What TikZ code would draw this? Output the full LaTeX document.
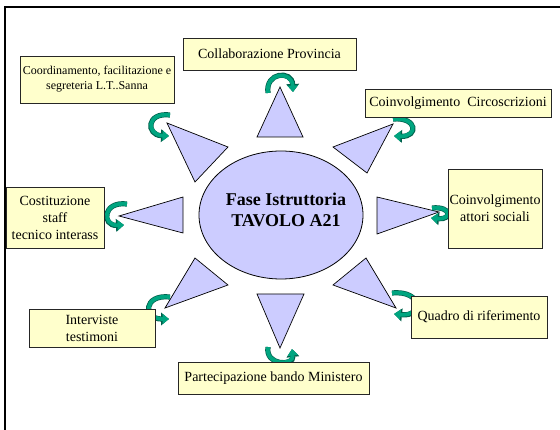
\documentclass[tikz,border=0pt]{standalone}
\usepackage{fontspec}
\setmainfont{Liberation Serif}
\usetikzlibrary{shapes.geometric,arrows.meta}
\definecolor{boxfill}{RGB}{255,255,204}
\definecolor{trifill}{RGB}{204,204,255}
\definecolor{cyccol}{RGB}{0,165,128}
\definecolor{cycedge}{RGB}{0,95,75}
\tikzset{
  box/.style={draw=black!85, fill=boxfill, line width=0.7pt, inner sep=0pt, align=center,
    font=\fontsize{14}{17}\selectfont},
  tri/.style={draw=black, fill=trifill, line width=0.7pt, line join=miter},
  cycedge/.style={draw=cycedge, line width=5.2pt, -{Triangle[width=12.5pt,length=8pt]}},
  cyc/.style={draw=cyccol, line width=3.8pt, -{Triangle[width=10pt,length=6.5pt]}},
  frame/.style={draw=black, line width=2.4pt}
}
\newcommand{\curlarrow}[3]{%
  \draw[cycedge] (#1) .. controls #3 .. (#2);
  \draw[cyc] (#1) .. controls #3 .. (#2);}
\begin{document}
\begin{tikzpicture}[x=1pt,y=1pt]
\useasboundingbox (0,0) rectangle (560,429);
% frame
\draw[frame] (5,-5) -- (5,422) -- (570,422);
% triangles
\draw[tri] (280,342) -- (257,292) -- (303,292) -- cycle;
\draw[tri] (167,306) -- (228,282) -- (195,247) -- cycle;
\draw[tri] (393,305) -- (333,282) -- (367,256) -- cycle;
\draw[tri] (119,213) -- (183,232) -- (183,196) -- cycle;
\draw[tri] (439,217) -- (377,232) -- (377,195) -- cycle;
\draw[tri] (165,121) -- (195,171) -- (228,144) -- cycle;
\draw[tri] (396,121) -- (366,171) -- (333,144) -- cycle;
\draw[tri] (280,81) -- (257,135) -- (304,135) -- cycle;
% curved arrows
\coordinate (t1) at (268,336); \coordinate (t2) at (293,337);
\coordinate (ul1) at (170,314); \coordinate (ul2) at (169,293);
\coordinate (ur1) at (393,310); \coordinate (ur2) at (394,293);
\coordinate (l1) at (127,225); \coordinate (l2) at (124,204);
\coordinate (r1) at (432,221); \coordinate (r2) at (431,211);
\coordinate (ll1) at (170,132); \coordinate (ll2) at (169,110);
\coordinate (lr1) at (392,136); \coordinate (lr2) at (394,115);
\coordinate (b1) at (268,82); \coordinate (b2) at (292,80);
\curlarrow{t1}{t2}{(265,357) and (292,359)}
\curlarrow{ul1}{ul2}{(146,317) and (146,294)}
\curlarrow{ur1}{ur2}{(418,312) and (418,292)}
\curlarrow{l1}{l2}{(102,228) and (102,203)}
\curlarrow{r1}{r2}{(452,223) and (452,209)}
\curlarrow{ll1}{ll2}{(143,135) and (143,110)}
\curlarrow{lr1}{lr2}{(423,139) and (423,112)}
\curlarrow{b1}{b2}{(265,63) and (294,63)}
% boxes
\node[box, minimum width=154pt, minimum height=47pt, font=\fontsize{12}{15}\selectfont] (coord) at (97,349.5)
  {Coordinamento, facilitazione e\\segreteria L.T..Sanna};
\node[box, minimum width=173pt, minimum height=32pt] (prov) at (269.5,375) {Collaborazione Provincia};
\node[box, minimum width=186pt, minimum height=28pt] (circ) at (458,326) {Coinvolgimento\ \ Circoscrizioni};
\node[box, minimum width=94pt, minimum height=79pt] (attori) at (495,220.5) {Coinvolgimento\\attori sociali};
\node[box, minimum width=136pt, minimum height=42pt] (quadro) at (479,112) {Quadro di riferimento};
\node[box, minimum width=191pt, minimum height=32pt] (bando) at (273.5,51) {Partecipazione bando Ministero};
\node[box, minimum width=126pt, minimum height=38pt] (interv) at (92,101) {Interviste\\testimoni};
\node[box, minimum width=98pt, minimum height=61pt] (costit) at (55,211.5) {Costituzione\\staff\\tecnico interass};
% centre
\node[ellipse, draw=black, fill=trifill, line width=0.8pt, minimum width=164pt, minimum height=128pt, inner sep=0pt] (centre) at (281,214) {};
\node[align=center, font=\bfseries\fontsize{18}{21}\selectfont, inner sep=0pt] (ctext) at (286,219) {Fase Istruttoria\\TAVOLO A21};
\end{tikzpicture}
\end{document}
